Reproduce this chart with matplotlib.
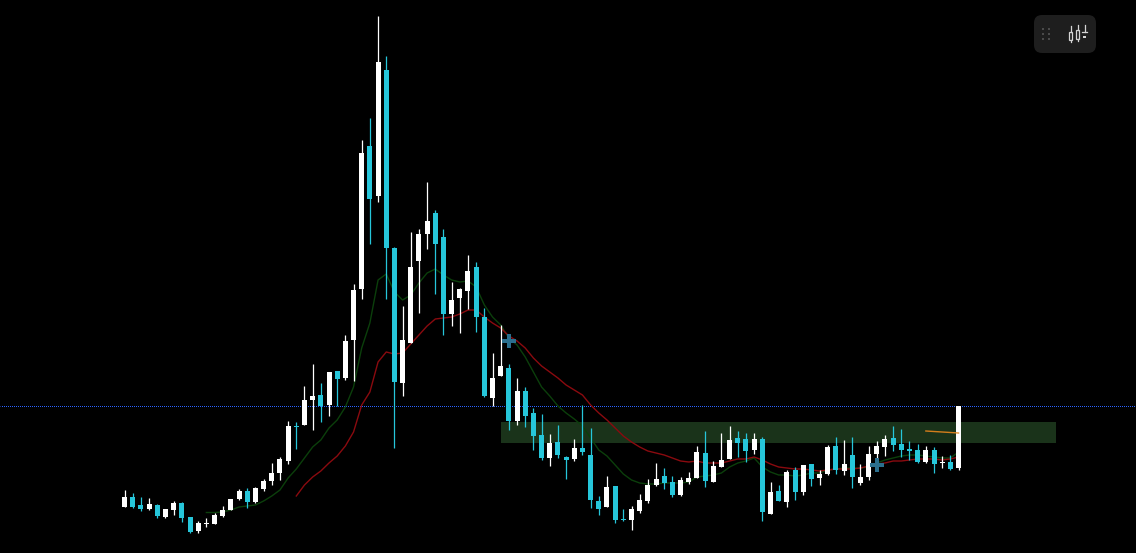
import numpy as np
import matplotlib as mpl
mpl.use('Agg')
import matplotlib.pyplot as plt
from matplotlib.patches import FancyBboxPatch, Rectangle

# candles, heights above the bottom of the chart (no price scale visible)
opens = [46, 56, 48, 44, 48, 36, 43, 50, 36, 22, 29, 29, 37, 43, 54, 62, 51, 64, 72, 80,
         92, 127, 128, 153, 158, 148, 182, 175, 213, 264, 407, 357, 483, 305, 170, 210, 292, 319, 340, 316,
         239, 255, 262, 286, 236, 155, 177, 185, 132, 162, 140, 118, 95, 111, 96, 94, 105, 98, 52, 46,
         67, 34, 33, 42, 52, 68, 77, 71, 58, 71, 75, 100, 71, 86, 94, 115, 114, 103, 114, 39,
         62, 51, 83, 61, 89, 75, 79, 107, 82, 98, 70, 76, 99, 106, 115, 109, 104, 103, 91, 103,
         90, 91, 85]
closes = [56, 46, 44, 49, 37, 44, 50, 35, 21, 30, 30, 38, 43, 54, 62, 51, 65, 72, 80, 94,
          127, 126, 153, 157, 147, 181, 174, 212, 263, 400, 354, 491, 305, 171, 213, 286, 319, 332, 309, 239,
          253, 264, 282, 236, 157, 175, 187, 132, 162, 137, 117, 95, 110, 98, 93, 105, 101, 53, 44, 66,
          33, 33, 44, 53, 68, 74, 70, 58, 73, 75, 101, 72, 87, 93, 113, 110, 102, 114, 41, 61,
          52, 81, 61, 88, 74, 79, 106, 83, 89, 76, 76, 99, 107, 114, 108, 103, 102, 91, 103, 89,
          91, 84, 147]
highs = [63, 60, 56, 55, 49, 44, 52, 51, 36, 32, 35, 40, 47, 54, 64, 65, 66, 74, 90, 96,
         132, 131, 167, 189, 170, 181, 182, 218, 269, 413, 435, 537, 497, 306, 247, 321, 324, 371, 343, 324,
         271, 265, 298, 291, 245, 200, 228, 189, 175, 166, 145, 139, 119, 128, 97, 114, 148, 125, 57, 77,
         67, 44, 47, 59, 74, 90, 85, 77, 76, 81, 107, 122, 92, 120, 127, 122, 120, 120, 116, 71,
         68, 83, 86, 88, 89, 83, 108, 116, 113, 116, 89, 107, 112, 118, 127, 124, 112, 109, 107, 106,
         97, 98, 147]
lows = [46, 45, 42, 43, 35, 35, 38, 31, 20, 20, 26, 29, 36, 43, 53, 45, 50, 62, 68, 73,
        89, 104, 128, 123, 131, 137, 147, 173, 172, 254, 309, 351, 254, 105, 157, 210, 240, 304, 259, 218,
        227, 220, 244, 221, 156, 147, 177, 123, 128, 126, 103, 93, 87, 95, 74, 92, 98, 45, 38, 46,
        30, 32, 23, 40, 50, 67, 64, 56, 57, 69, 75, 66, 71, 86, 94, 96, 91, 99, 32, 39,
        52, 46, 53, 58, 67, 68, 78, 79, 78, 65, 68, 73, 94, 97, 102, 96, 93, 90, 90, 80,
        85, 83, 83]

# moving averages, both end on the last candle
ma_fast = [40.5, 40.5, 41, 43, 46, 47, 48, 52, 57, 63,
           75, 84, 95, 106, 113, 125, 133, 146, 166, 205,
           230, 273, 279, 261, 253, 258, 270, 280, 284, 278,
           273, 271, 272, 266, 248, 236, 228, 215, 208, 196,
           181, 166, 157, 147, 140, 134, 127, 115, 103, 97,
           88, 79, 73, 70, 69, 69, 70, 70, 70, 71,
           76, 77, 78, 80, 86, 90, 92, 95, 86, 81,
           78, 78, 77, 78, 80, 80, 83, 84, 85, 85,
           85, 86, 90, 93, 95, 97, 98, 98, 97, 96,
           95, 95, 101]
ma_slow = [57, 68, 76, 82, 90, 97, 107, 121, 148,
           161, 191, 201, 199, 200, 209, 218, 227, 234, 235,
           236, 239, 243, 243, 236, 230, 225, 217, 212, 205,
           195, 187, 181, 175, 168, 163, 158, 148, 140, 133,
           125, 117, 111, 106, 102, 100, 98, 95, 92, 91,
           92, 90, 90, 90, 92, 94, 94, 96, 93, 89,
           86, 85, 84, 84, 83, 82, 83, 84, 84, 84,
           85, 87, 89, 90, 92, 92, 93, 94, 94, 94,
           93, 94, 96]

# levels and annotations
price_line = 147
zone_low, zone_high = 110, 131
zone_start, zone_end = 46.05, 113.93
cross_x = [47, 92]
cross_y = [212, 88]
pivot_x = [98, 102]
pivot_y = [122, 120]

up_col = '#ffffff'
down_col = '#26c6da'

opens = np.array(opens)
closes = np.array(closes)
highs = np.array(highs)
lows = np.array(lows)
idx = np.arange(len(opens))
colors = [up_col if c >= o else down_col for o, c in zip(opens, closes)]

fig = plt.figure(figsize=(11.36, 5.53), dpi=100, facecolor='black')
ax = fig.add_axes([0, 0, 1, 1])
ax.set_facecolor('black')
ax.set_xlim(-124.6 / 8.176, (1136 - 124.6) / 8.176)
ax.set_ylim(0, 553)
ax.axis('off')

ax.add_patch(Rectangle((zone_start, zone_low), zone_end - zone_start, zone_high - zone_low,
                       facecolor='#1a331a', edgecolor='none', zorder=1))
ax.axhline(price_line, color='#2962ff', lw=0.72, linestyle=(0.5, (1, 1)), zorder=2)

ax.plot(idx[10:], ma_fast, color='#0b3f0b', lw=1.0, zorder=3)
ax.plot(idx[21:], ma_slow, color='#8a0a0f', lw=1.0, zorder=3)

ax.vlines(idx, lows, highs, colors=colors, lw=0.9, zorder=4)
body = np.where(np.abs(closes - opens) < 1.5, 1.5, np.abs(closes - opens))
ax.bar(idx, body, bottom=np.minimum(opens, closes), width=5 / 8.176,
       color=colors, linewidth=0, zorder=5)

ax.plot(cross_x, cross_y, linestyle='None', marker='P', ms=10.5, mew=0, color='#2b6f8e', zorder=6)
ax.plot(pivot_x, pivot_y, color='#e8861c', lw=1.0, alpha=0.9, zorder=6)

# little toolbar in the corner, drawn in screen pixels
ui = fig.add_axes([0, 0, 1, 1])
ui.set_xlim(0, 1136)
ui.set_ylim(553, 0)
ui.axis('off')
ui.patch.set_alpha(0)
ui.add_patch(FancyBboxPatch((1034, 15), 62, 38, boxstyle='round,pad=0,rounding_size=8', facecolor='#1e1e1e',
                            edgecolor='none'))
for dx in [1043, 1049]:
	for dy in [29, 34, 39]:
		ui.add_patch(Rectangle((dx - 1, dy - 1), 2, 2, facecolor='#4a4a4a', edgecolor='none'))
for cx, top, b0, b1, bot in [(1070.5, 26, 32, 40, 42), (1077.5, 25, 30, 39, 41)]:
	ui.plot([cx, cx], [top, b0], color='#d4d4d4', lw=0.9)
	ui.plot([cx, cx], [b1, bot], color='#d4d4d4', lw=0.9)
	ui.add_patch(Rectangle((cx - 1.5, b0), 3, b1 - b0, facecolor='none', edgecolor='#d4d4d4', lw=0.9))
ui.plot([1084.5, 1084.5], [25, 32], color='#d4d4d4', lw=0.9)
ui.plot([1082, 1087], [31.5, 31.5], color='#d4d4d4', lw=0.9)
ui.add_patch(Rectangle((1083, 35.5), 3, 2.5, facecolor='#d4d4d4', edgecolor='none'))

fig.savefig('out.png', dpi=100, facecolor='black')
plt.close(fig)
